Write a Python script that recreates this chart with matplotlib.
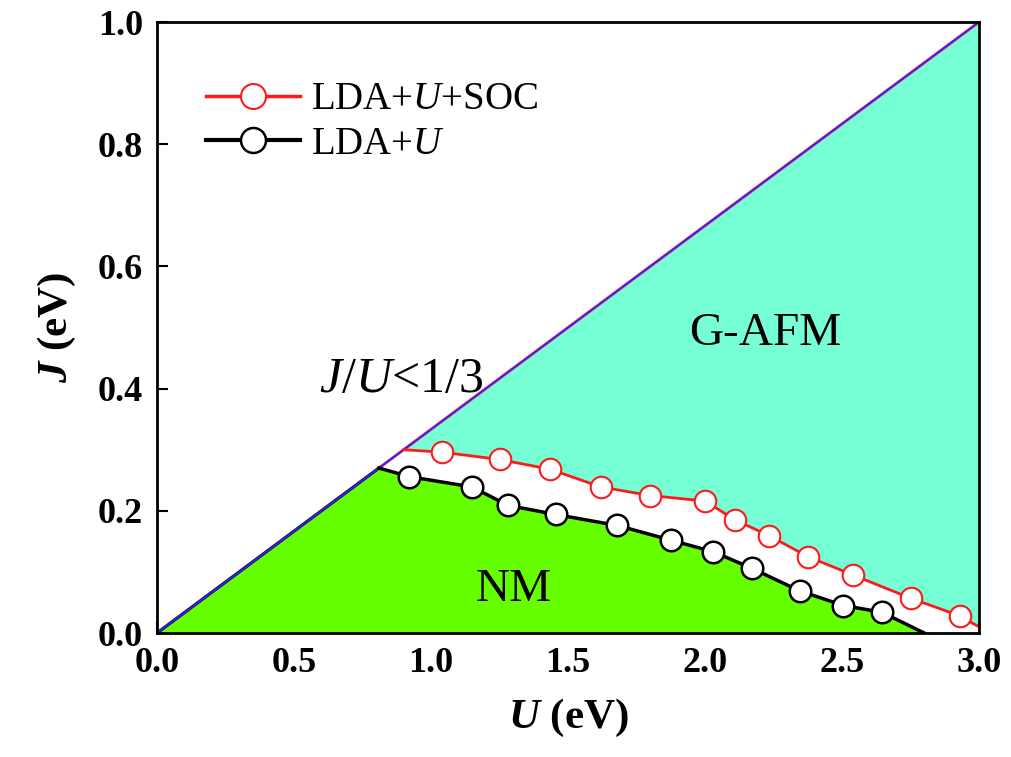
import numpy as np
import matplotlib.pyplot as plt
from matplotlib.lines import Line2D

plt.rcParams['font.family'] = ['Liberation Serif', 'DejaVu Serif']
plt.rcParams['mathtext.fontset'] = 'custom'
plt.rcParams['mathtext.rm'] = 'Liberation Serif'
plt.rcParams['mathtext.it'] = 'Liberation Serif:italic'
plt.rcParams['mathtext.bf'] = 'Liberation Serif:bold'
plt.rcParams['mathtext.bfit'] = 'Liberation Serif:bold:italic'

# phase boundary, LDA+U+SOC (markers)
U_soc = [1.04, 1.25, 1.435, 1.62, 1.80, 2.00, 2.11, 2.235, 2.375, 2.54, 2.75, 2.93]
J_soc = [0.296, 0.284, 0.268, 0.239, 0.225, 0.216, 0.185, 0.159, 0.125, 0.095, 0.057, 0.028]
soc_start = (0.90, 0.30)
soc_end = (3.00, 0.01)

# phase boundary, LDA+U (markers)
U_lda = [0.92, 1.15, 1.28, 1.455, 1.68, 1.875, 2.03, 2.17, 2.345, 2.505, 2.645]
J_lda = [0.256, 0.239, 0.209, 0.194, 0.176, 0.152, 0.133, 0.106, 0.069, 0.045, 0.034]
lda_start = (0.81, 0.27)
lda_end = (2.80, 0.0)

ratio = 1 / 3.0
U_max = 3.0

green = '#66ff00'
cyan = '#76ffd4'

fig = plt.figure(figsize=(10.11, 7.57), dpi=100)
ax = fig.add_axes([0.1553, 0.1638, 0.8131, 0.8071])

# full lines incl. end points on diagonal / axis
soc_u = [soc_start[0]] + U_soc + [soc_end[0]]
soc_j = [soc_start[1]] + J_soc + [soc_end[1]]
lda_u = [lda_start[0]] + U_lda + [lda_end[0]]
lda_j = [lda_start[1]] + J_lda + [lda_end[1]]

# regions
ax.fill([0, U_max, U_max], [0, 0, U_max * ratio], color=cyan, lw=0, zorder=1)
ax.fill([0] + soc_u + [U_max], [0] + soc_j + [0], color='white', lw=0, zorder=2)
ax.fill([0] + lda_u, [0] + lda_j, color=green, lw=0, zorder=3)

# J/U = 1/3 line
ax.plot([0, U_max], [0, U_max * ratio], color='#ff4060', lw=2.2, zorder=4)
ax.plot([0, U_max], [0, U_max * ratio], color='#2020ff', lw=1.2, zorder=5)
ax.plot([0, lda_start[0]], [0, lda_start[1]], color='#101060', lw=2.2, zorder=5)
ax.plot([0, lda_start[0]], [0, lda_start[1]], color='#2030ff', lw=1.0, zorder=6)

# boundaries
ax.plot(soc_u, soc_j, color='#ff1a1a', lw=2.0, zorder=6)
ax.plot(U_soc, J_soc, 'o', ms=15.5, mfc='white', mec='#ff1a1a', mew=1.5, zorder=7)
ax.plot(lda_u, lda_j, color='black', lw=2.5, zorder=6)
ax.plot(U_lda, J_lda, 'o', ms=15.5, mfc='white', mec='black', mew=1.8, zorder=7)

ax.text(0.89, 0.415, r'$J/U$<1/3', fontsize=36, ha='center', va='center', zorder=8)
ax.text(2.22, 0.49, 'G-AFM', fontsize=34, ha='center', va='center', zorder=8)
ax.text(1.30, 0.07, 'NM', fontsize=34, ha='center', va='center', zorder=8)

handles = [
    Line2D([], [], color='#ff1a1a', lw=2.5, marker='o', ms=18, mfc='white', mec='#ff1a1a', mew=1.5),
    Line2D([], [], color='black', lw=3, marker='o', ms=18, mfc='white', mec='black', mew=1.8),
]
ax.legend(handles, [r'LDA+$U$+SOC', r'LDA+$U$'], loc='upper left',
          bbox_to_anchor=(0.06, 0.903), frameon=False, fontsize=28,
          handlelength=2.4, handletextpad=0.3, labelspacing=0.2,
          borderpad=0, borderaxespad=0)

ax.set_xlim(0, 3.0)
ax.set_ylim(0, 1.0)
ax.set_xticks(np.arange(0, 3.01, 0.5))
ax.set_yticks(np.arange(0, 1.01, 0.2))
ax.tick_params(direction='in', length=8, width=1.5, labelsize=26, pad=10,
               top=False, right=False)
for lab in ax.get_xticklabels() + ax.get_yticklabels():
    lab.set_fontweight('bold')
for s in ax.spines.values():
    s.set_linewidth(2)
    s.set_zorder(10)

ax.set_xlabel(r'$\boldsymbol{U}$ (eV)', fontsize=31, fontweight='bold', labelpad=12)
ax.set_ylabel(r'$\boldsymbol{J}$ (eV)', fontsize=31, fontweight='bold', labelpad=14)

fig.savefig('out.png', dpi=100)
